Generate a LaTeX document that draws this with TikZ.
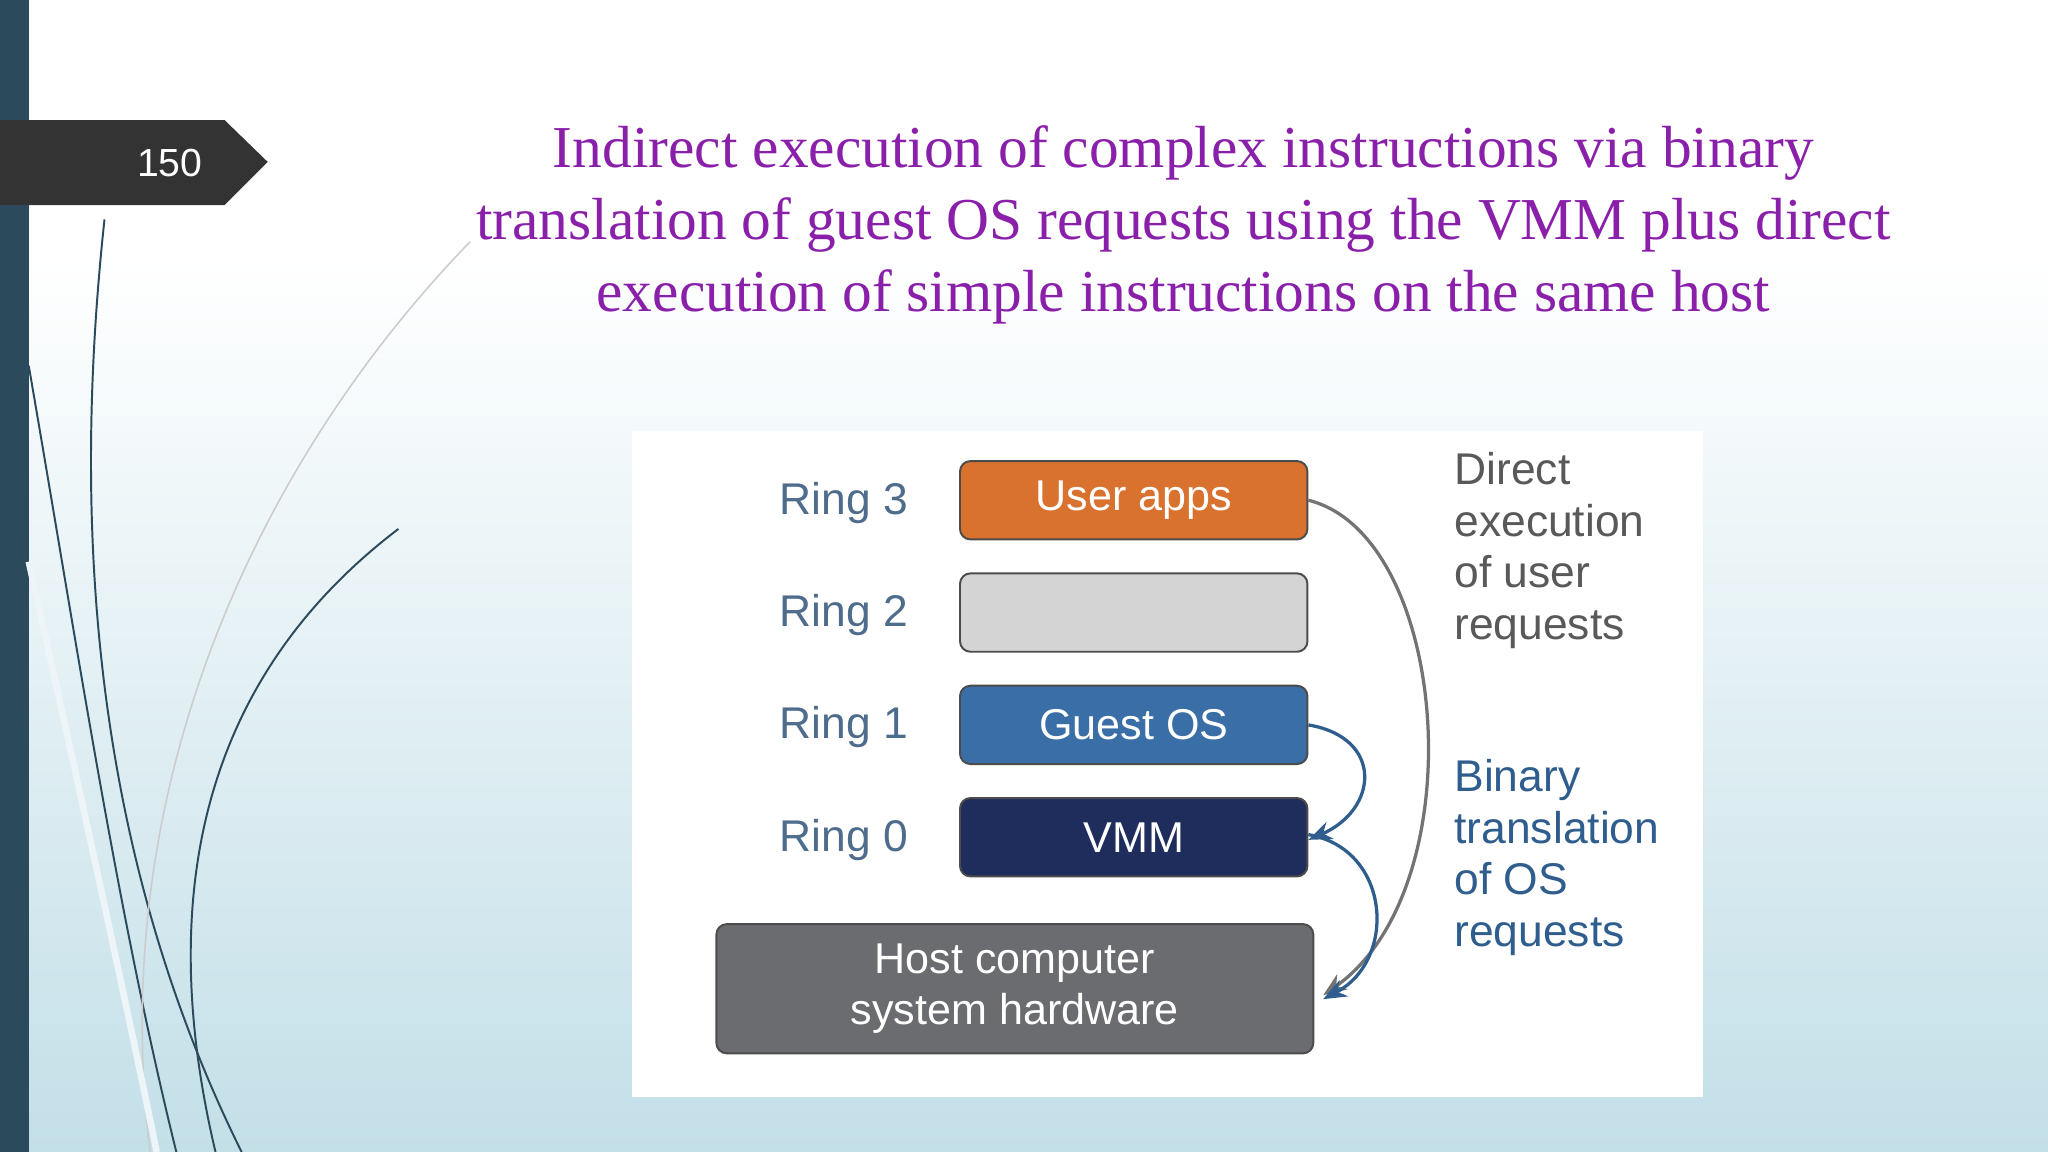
\documentclass[tikz,border=0pt]{standalone}
\usepackage{fontspec}
\setmainfont{Liberation Serif}
\newfontfamily\dsans{Liberation Sans}
\usetikzlibrary{arrows.meta}
\definecolor{bar}{HTML}{2B4A5C}
\definecolor{ttl}{HTML}{8A1FAA}
\definecolor{ringc}{HTML}{4E6C8C}
\definecolor{orng}{HTML}{D9722E}
\definecolor{gos}{HTML}{3A6EA6}
\definecolor{vmm}{HTML}{1E2D5C}
\definecolor{host}{HTML}{6B6C6F}
\definecolor{bt}{HTML}{2F5E8E}
\definecolor{lb}{HTML}{C3DFE8}
\begin{document}
\begin{tikzpicture}[x=1pt,y=-1pt,
  ring/.style={font=\dsans\fontsize{34}{38}\selectfont,text=ringc},
  rbox/.style={draw=black!70,line width=1.5pt,rounded corners=8pt,minimum width=266pt,minimum height=60pt,font=\dsans\fontsize{33}{38}\selectfont,text=white},
  side/.style={font=\dsans\fontsize{34}{39.5}\selectfont,align=left,anchor=north west},
  arr/.style={line width=2.5pt,-{Stealth[length=18pt,width=14pt]}}]
\useasboundingbox (0,0) rectangle (1568,882);
\fill[white] (0,0) rectangle (1568,200);
\shade[top color=white,bottom color=lb] (0,199) rectangle (1568,882);
\fill[bar] (0,0) rectangle (22,882);
% decorative curves
\draw[bar,line width=1.5pt] (80,168) .. controls (55,400) and (70,650) .. (185,882);
\draw[bar,line width=1.5pt] (305,405) .. controls (180,500) and (110,650) .. (165,882);
\draw[bar,line width=1.5pt] (22,280) .. controls (60,500) and (90,700) .. (135,882);
\draw[gray!40,line width=1.2pt] (360,185) .. controls (200,350) and (80,600) .. (115,882);
\draw[white!70!lb,line width=5pt] (22,430) .. controls (60,600) and (95,760) .. (120,882);
\fill[black!80] (0,92) -- (172,92) -- (205,124) -- (172,157) -- (0,157) -- cycle;
\node[text=white,font=\dsans\fontsize{30}{34}\selectfont] (num) at (130,125) {150};
\node[text=ttl,font=\fontsize{45.5}{55}\selectfont,align=center] (title) at (906,172)
 {Indirect execution of complex instructions via binary\\translation of guest OS requests using the VMM plus direct\\execution of simple instructions on the same host};
\fill[white] (484,330) rectangle (1304,840);
\node[ring] (r3) at (646,385) {Ring 3};
\node[ring] (r2) at (646,471) {Ring 2};
\node[ring] (r1) at (646,557) {Ring 1};
\node[ring] (r0) at (646,643) {Ring 0};
\node[rbox,fill=orng] (ua) at (868,383) {User apps};
\node[rbox,fill=black!17] (r2b) at (868,469) {};
\node[rbox,fill=gos] (go) at (868,555) {Guest OS};
\node[rbox,fill=vmm] (vm) at (868,641) {VMM};
\node[rbox,fill=host,minimum width=457pt,minimum height=99pt,align=center,font=\dsans\fontsize{33}{39}\selectfont] (hw) at (777,757) {Host computer\\system hardware};
\node[side,text=black!65] (d) at (1110,343) {Direct\\execution\\of user\\requests};
\node[side,text=bt] (b) at (1110,578) {Binary\\translation\\of OS\\requests};
\coordinate (end) at (1013,762);
\draw[arr,draw=black!55] (ua.east) .. controls (1110,410) and (1130,680) .. (end);
\draw[arr,draw=bt] (go.east) .. controls (1060,565) and (1055,620) .. ([yshift=-2pt]vm.east);
\draw[arr,draw=bt] ([yshift=2pt]vm.east) .. controls (1065,650) and (1070,735) .. ([yshift=-3pt]end);
\end{tikzpicture}
\end{document}
